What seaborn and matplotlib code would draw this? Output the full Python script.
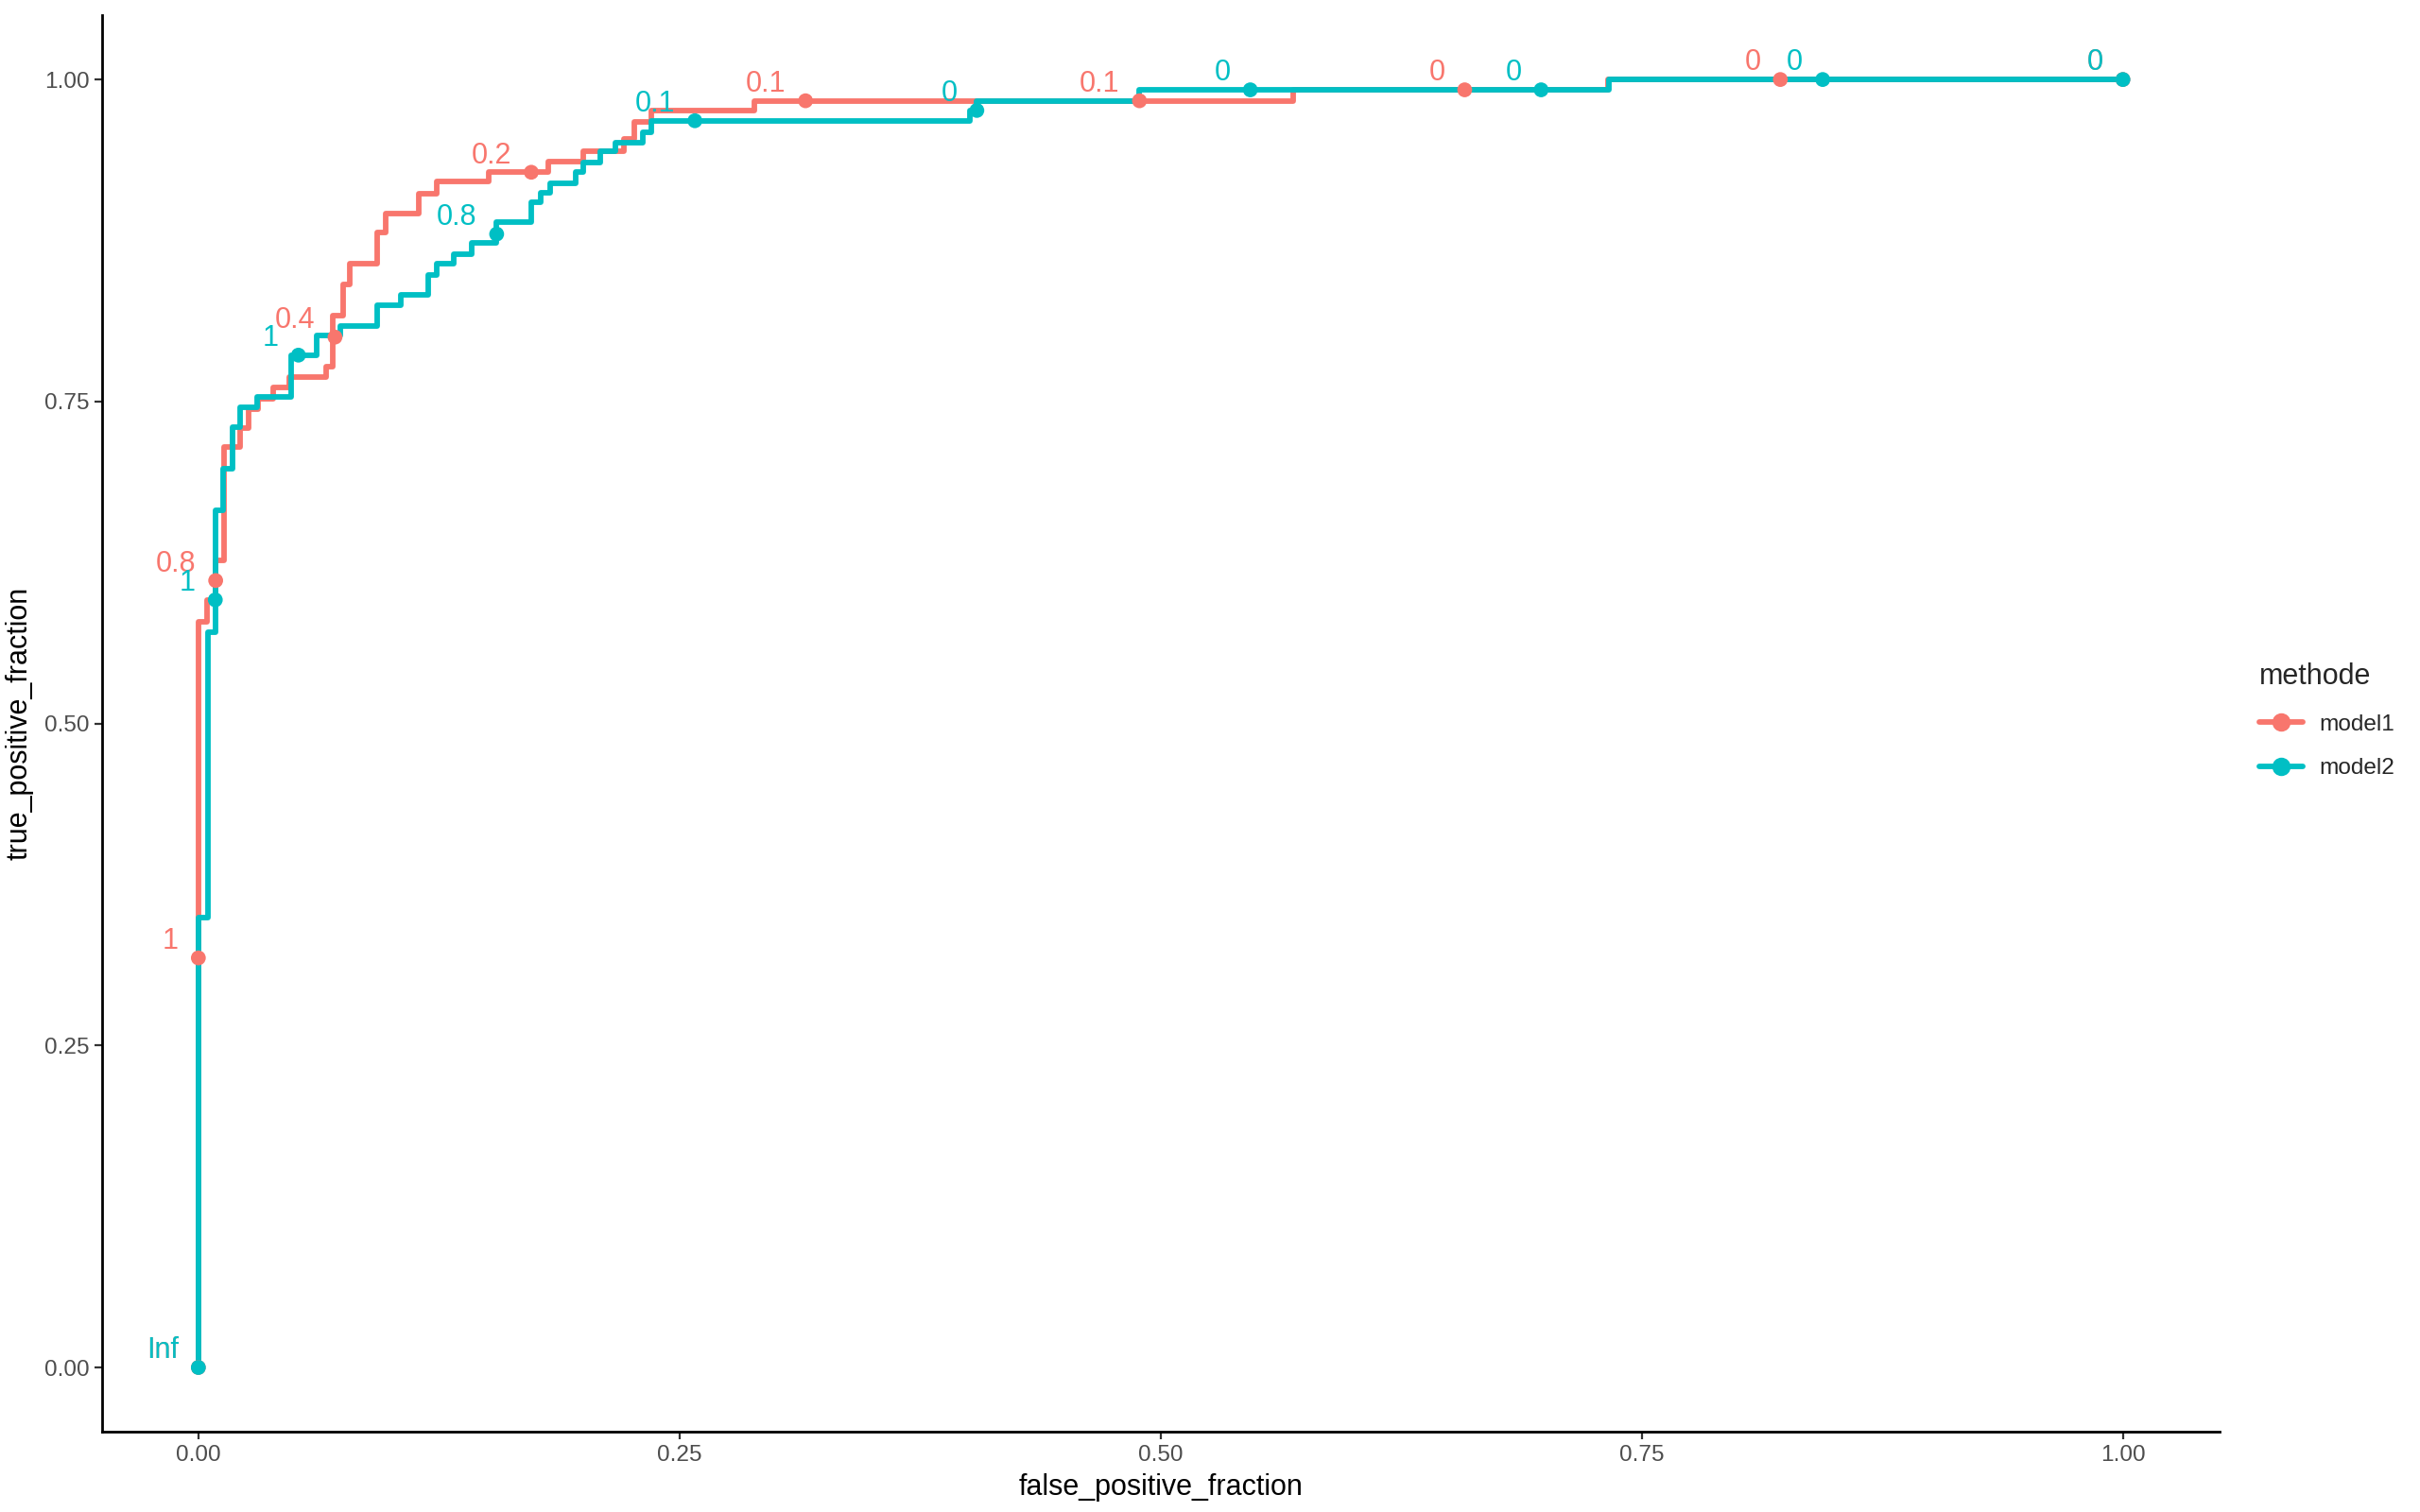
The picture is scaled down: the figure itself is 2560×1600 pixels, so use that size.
import matplotlib
matplotlib.use('Agg')

import pandas as pd
import matplotlib.pyplot as plt
import seaborn as sns
from matplotlib.lines import Line2D

# ROC step corners (top of each vertical segment)
model1_fpr = [0.0, 0.0, 0.0043, 0.0091, 0.0134, 0.0219, 0.026, 0.031, 0.0388, 0.0473,
              0.0662, 0.070, 0.075, 0.0785, 0.093, 0.0975, 0.1145, 0.124, 0.151, 0.182,
              0.200, 0.221, 0.2266, 0.2356, 0.289, 0.569, 0.7326, 1.0]
model1_tpr = [0.0, 0.579, 0.596, 0.627, 0.715, 0.729, 0.744, 0.752, 0.761, 0.769,
              0.777, 0.8165, 0.841, 0.857, 0.8815, 0.896, 0.911, 0.9207, 0.928, 0.9366,
              0.944, 0.954, 0.967, 0.976, 0.9835, 0.992, 1.0, 1.0]

model2_fpr = [0.0, 0.0, 0.0048, 0.0091, 0.0131, 0.0179, 0.0219, 0.0307, 0.0483, 0.0615,
              0.0738, 0.0927, 0.1054, 0.1192, 0.124, 0.1325, 0.142, 0.155, 0.173, 0.178,
              0.1826, 0.1959, 0.200, 0.2087, 0.2167, 0.231, 0.2352, 0.4007, 0.4045, 0.489,
              0.7327, 1.0]
model2_tpr = [0.0, 0.3496, 0.571, 0.6658, 0.698, 0.730, 0.7456, 0.7538, 0.786, 0.801,
              0.8085, 0.825, 0.8325, 0.8485, 0.857, 0.8644, 0.873, 0.889, 0.905, 0.912,
              0.9195, 0.928, 0.9354, 0.944, 0.951, 0.9587, 0.968, 0.9758, 0.9835, 0.992,
              1.0, 1.0]

# cutoff points and their labels
model1_cut_fpr = [0.0, 0.0, 0.009, 0.071, 0.173, 0.3155, 0.489, 0.658, 0.822, 1.0]
model1_cut_tpr = [0.0, 0.318, 0.611, 0.800, 0.928, 0.9835, 0.9835, 0.992, 1.0, 1.0]
model1_cut_lab = ['Inf', '1', '0.8', '0.4', '0.2', '0.1', '0.1', '0', '0', '0']

model2_cut_fpr = [0.0, 0.0088, 0.052, 0.155, 0.258, 0.4045, 0.5466, 0.6977, 0.844, 1.0]
model2_cut_tpr = [0.0, 0.596, 0.786, 0.880, 0.968, 0.976, 0.992, 0.992, 1.0, 1.0]
model2_cut_lab = ['Inf', '1', '1', '0.8', '0.1', '0', '0', '0', '0', '0']

colors = {'model1': '#F8766D', 'model2': '#00BFC4'}

curve_df = pd.concat([
    pd.DataFrame({'false_positive_fraction': model1_fpr, 'true_positive_fraction': model1_tpr, 'methode': 'model1'}),
    pd.DataFrame({'false_positive_fraction': model2_fpr, 'true_positive_fraction': model2_tpr, 'methode': 'model2'}),
], ignore_index=True)
cut_df = pd.concat([
    pd.DataFrame({'fpr': model1_cut_fpr, 'tpr': model1_cut_tpr, 'label': model1_cut_lab, 'methode': 'model1'}),
    pd.DataFrame({'fpr': model2_cut_fpr, 'tpr': model2_cut_tpr, 'label': model2_cut_lab, 'methode': 'model2'}),
], ignore_index=True)

sns.set_style('ticks')
plt.rcParams['font.family'] = ['Liberation Sans', 'DejaVu Sans']

fig = plt.figure(figsize=(12.8, 8), dpi=200)
ax = fig.add_axes([0.0422, 0.053, 0.8748, 0.937])

sns.lineplot(data=curve_df, x='false_positive_fraction', y='true_positive_fraction',
             hue='methode', palette=colors, sort=False, estimator=None,
             drawstyle='steps-post', linewidth=2.1, legend=False, ax=ax, zorder=2)
sns.scatterplot(data=cut_df, x='fpr', y='tpr', hue='methode', palette=colors,
                s=32, linewidth=0, legend=False, ax=ax, zorder=3)
for _, r in cut_df.iterrows():
    ax.annotate(r['label'], (r['fpr'], r['tpr']), xytext=(-7.5, 3.5),
                textcoords='offset points', ha='right', va='baseline',
                color=colors[r['methode']], fontsize=11, zorder=4)

ax.set_xlim(-0.05, 1.05)
ax.set_ylim(-0.05, 1.05)
ticks = [0, 0.25, 0.5, 0.75, 1.0]
ax.set_xticks(ticks)
ax.set_yticks(ticks)
ax.set_xticklabels(['0.00', '0.25', '0.50', '0.75', '1.00'])
ax.set_yticklabels(['0.00', '0.25', '0.50', '0.75', '1.00'])
ax.tick_params(labelsize=8.8, labelcolor='#4D4D4D', length=2.75, width=0.8, color='#333333', pad=2.2)
ax.set_xlabel('false_positive_fraction', fontsize=11, color='black', labelpad=3)
ax.set_ylabel('true_positive_fraction', fontsize=11, color='black', labelpad=4)
sns.despine(ax=ax)
for s in ['left', 'bottom']:
    ax.spines[s].set_linewidth(1.0)
    ax.spines[s].set_color('black')

handles = [Line2D([0], [0], color=colors[m], lw=2.1, marker='o', markersize=6) for m in ['model1', 'model2']]
leg = fig.legend(handles, ['model1', 'model2'], title='methode', loc='upper left',
                 bbox_to_anchor=(2390 / 2560, 1 - 701 / 1600), frameon=False,
                 fontsize=8.8, title_fontsize=11, handlelength=1.9, borderpad=0,
                 borderaxespad=0, labelspacing=1.0, handletextpad=0.7)
leg._legend_box.align = 'left'

plt.savefig('out.png', dpi=200)
